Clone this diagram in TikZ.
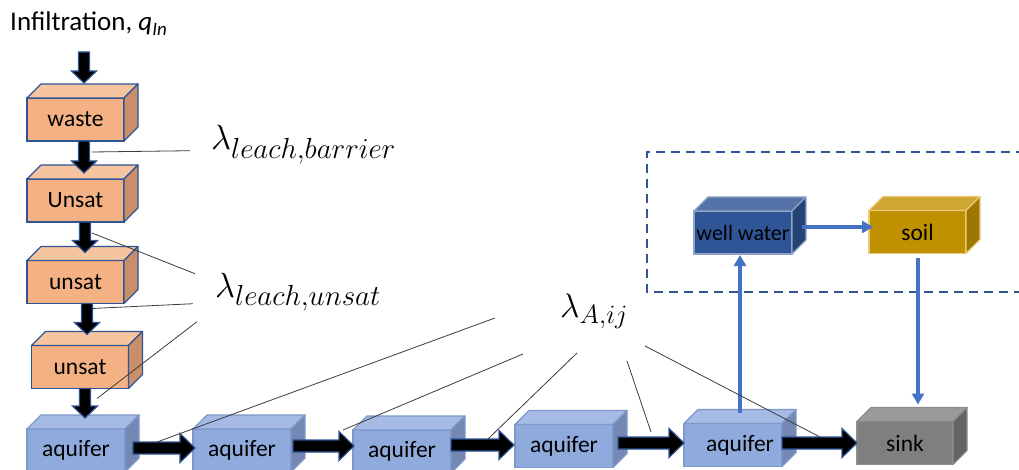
\RequirePackage{fix-cm}
\documentclass[tikz,border=0pt]{standalone}
\usepackage{fontspec}
\setmainfont{Carlito}
\usetikzlibrary{calc,arrows.meta}
\DeclareMathSizes{34}{34}{26.5}{20}
\DeclareMathSizes{35}{35}{29}{21}
\definecolor{orfront}{HTML}{F4B183}
\definecolor{ortop}{HTML}{F7C4A0}
\definecolor{orside}{HTML}{C98F6A}
\definecolor{oredge}{HTML}{2F5597}
\definecolor{aqfront}{HTML}{8FAADC}
\definecolor{aqtop}{HTML}{A5BAE4}
\definecolor{aqside}{HTML}{7588B4}
\definecolor{aqedge}{HTML}{7D98C9}
\definecolor{skfront}{HTML}{7F7F7F}
\definecolor{sktop}{HTML}{9A9A9A}
\definecolor{skside}{HTML}{646464}
\definecolor{skedge}{HTML}{8C8C8C}
\definecolor{wwfront}{HTML}{2F5597}
\definecolor{wwtop}{HTML}{5573A8}
\definecolor{wwside}{HTML}{254476}
\definecolor{wwedge}{HTML}{8FA3C6}
\definecolor{sofront}{HTML}{BF9000}
\definecolor{sotop}{HTML}{CDA634}
\definecolor{soside}{HTML}{9E7700}
\definecolor{soedge}{HTML}{EBCB75}
\definecolor{bluearr}{HTML}{4472C4}
\definecolor{dashblue}{HTML}{2F5597}
\definecolor{leader}{HTML}{3C3C3C}
\newcommand\cuboidfaces[4]{%
  \draw[line width=1.2pt, draw=#4, fill=#2, line join=round]
    (#1.north west) -- ++(14,-14) -- ([shift={(14,-14)}]#1.north east) -- (#1.north east) -- cycle;
  \draw[line width=1.2pt, draw=#4, fill=#3, line join=round]
    (#1.north east) -- ++(14,-14) -- ([shift={(14,-14)}]#1.south east) -- (#1.south east) -- cycle;
}
\tikzset{
  box/.style={draw, line width=1.2pt, minimum width=97pt, minimum height=43pt,
    inner sep=0pt, outer sep=0pt, font=\fontsize{23.5}{28}\selectfont, text=black},
  orbox/.style={box, fill=orfront, draw=oredge},
  aqbox/.style={box, fill=aqfront, draw=aqedge, minimum width=98pt},
  fatdown/.style={draw=oredge, fill=black, line width=1.2pt, line join=miter,
    to path={let \p1=(\tikztostart), \p2=(\tikztotarget) in
      (\x1-5.5pt,\y1) -- (\x1-5.5pt,\y2+12pt) -- (\x1-12.5pt,\y2+12pt) -- (\x1,\y2)
      -- (\x1+12.5pt,\y2+12pt) -- (\x1+5.5pt,\y2+12pt) -- (\x1+5.5pt,\y1) -- cycle}},
  fatright/.style={draw=oredge, fill=black, line width=1.2pt, line join=miter,
    to path={let \p1=(\tikztostart), \p2=(\tikztotarget) in
      (\x1,\y1+6pt) -- (\x2-15pt,\y1+6pt) -- (\x2-15pt,\y1+14.5pt) -- (\x2,\y1)
      -- (\x2-15pt,\y1-14.5pt) -- (\x2-15pt,\y1-6pt) -- (\x1,\y1-6pt) -- cycle}},
  bluearrow/.style={draw=bluearr, line width=3.5pt, -{Triangle[width=12pt,length=11pt]}},
  leaderline/.style={draw=leader, line width=0.8pt},
  lam/.style={anchor=base west, inner sep=0pt, font=\fontsize{35}{40}\selectfont},
  lamsmall/.style={anchor=base west, inner sep=0pt, font=\fontsize{34}{40}\selectfont}
}
\begin{document}
\begin{tikzpicture}[x=1pt,y=-1pt]
\useasboundingbox (0,0) rectangle (1019,470);
% dashed region
\draw[dashblue, line width=1.5pt, dash pattern=on 9pt off 6pt] (1040,152) -- (647,152) -- (647,292) -- (1040,292);
% infiltration label
\node[anchor=base west, inner sep=0pt, font=\fontsize{27}{32}\selectfont] (infil) at (10,31)
  {Infiltration, \textit{q}\textsubscript{\textit{In}}};
% orange boxes
\node[orbox] (waste) at (75.5,119.5) {waste};
\cuboidfaces{waste}{ortop}{orside}{oredge}
\node[orbox] (unsatA) at (75.5,200.5) {Unsat};
\cuboidfaces{unsatA}{ortop}{orside}{oredge}
\node[orbox] (unsatB) at (75.5,282) {unsat};
\cuboidfaces{unsatB}{ortop}{orside}{oredge}
\node[orbox] (unsatC) at (80,367) {unsat};
\cuboidfaces{unsatC}{ortop}{orside}{oredge}
% aquifers
\node[aqbox] (aq1) at (76,450.5) {aquifer};
\cuboidfaces{aq1}{aqtop}{aqside}{aqedge}
\node[aqbox] (aq2) at (242,450.5) {aquifer};
\cuboidfaces{aq2}{aqtop}{aqside}{aqedge}
\node[aqbox] (aq3) at (402,451.5) {aquifer};
\cuboidfaces{aq3}{aqtop}{aqside}{aqedge}
\node[aqbox] (aq4) at (564,446) {aquifer};
\cuboidfaces{aq4}{aqtop}{aqside}{aqedge}
\node[aqbox] (aq5) at (733,445) {\hspace{14pt}aquifer};
\cuboidfaces{aq5}{aqtop}{aqside}{aqedge}
\node[box, fill=skfront, draw=skedge, minimum width=96pt] (sink) at (905,443) {sink};
\cuboidfaces{sink}{sktop}{skside}{skedge}
% well water and soil
\node[box, fill=wwfront, draw=wwedge, minimum width=98pt, font=\fontsize{22}{26}\selectfont] (well) at (743,232.5) {well water};
\cuboidfaces{well}{wwtop}{wwside}{wwedge}
\node[box, fill=sofront, draw=soedge, minimum width=97pt] (soil) at (917.5,232) {soil};
\cuboidfaces{soil}{sotop}{soside}{soedge}
% black fat arrows
\draw[fatdown] ($(waste.north)+(8.5,-46)$) to ($(waste.north)+(8.5,-15)$);
\draw[fatdown] ($(waste.south)+(8.5,0)$) to ($(unsatA.north)+(8.5,-6)$);
\draw[fatdown] ($(unsatA.south)+(9.5,0)$) to ($(unsatB.north)+(9.5,-8)$);
\draw[fatdown] ($(unsatB.south)+(11.5,0)$) to ($(unsatC.north)+(7,-11)$);
\draw[fatdown] ($(unsatC.south)+(5,0)$) to ($(aq1.north)+(9,-11)$);
\draw[fatright] ($(aq1.east)+(8,-2.5)$) to ($(aq2.west)+(2,-2.5)$);
\draw[fatright] ($(aq2.east)+(2,-4.5)$) to ($(aq3.west)+(1,-5.5)$);
\draw[fatright] ($(aq3.east)+(0,-6.5)$) to ($(aq4.west)+(-1,-1)$);
\draw[fatright] ($(aq4.east)+(5,-3)$) to ($(aq5.west)+(0,-2)$);
\draw[fatright] ($(aq5.east)+(0,-2)$) to ($(sink.west)+(0,0)$);
% blue arrows
\draw[bluearrow] ($(aq5.north)+(7,-11)$) -- ($(well.south)+(-3,1)$);
\draw[bluearrow] ($(well.east)+(10,-5.5)$) -- ($(soil.west)+(4,-5)$);
\draw[bluearrow] ($(soil.south)+(0.5,4)$) -- ($(sink.north)+(13,-17)$);
% lambda labels
\node[lam] (lbar) at (211,150) {$\lambda_{leach,barrier}$};
\node[lam] (luns) at (215,297) {$\lambda_{leach,unsat}$};
\node[lamsmall] (laij) at (560,317) {$\lambda_{A,ij}$};
% leader lines
\draw[leaderline] ($(waste.south)+(16.5,11)$) -- ($(lbar.west)+(-21,6)$);
\draw[leaderline] ($(unsatA.south)+(16.5,11)$) -- ($(luns.west)+(-20,-18)$);
\draw[leaderline] ($(unsatB.south)+(16.5,5)$) -- ($(luns.west)+(-22,12)$);
\draw[leaderline] ($(unsatC.south)+(17,10)$) -- ($(luns.west)+(-18,30)$);
\draw[leaderline] ($(aq1.east)+(32,-8.5)$) -- ($(laij.west)+(-65,7)$);
\draw[leaderline] ($(aq2.east)+(52,-20.5)$) -- ($(laij.west)+(-37,43)$);
\draw[leaderline] ($(aq3.east)+(37,-12.5)$) -- ($(laij.west)+(17,42)$);
\draw[leaderline] ($(aq4.east)+(38,-14)$) -- ($(laij.west)+(67,50)$);
\draw[leaderline] ($(aq5.east)+(38,-8)$) -- ($(laij.west)+(85,35)$);
\end{tikzpicture}
\end{document}
